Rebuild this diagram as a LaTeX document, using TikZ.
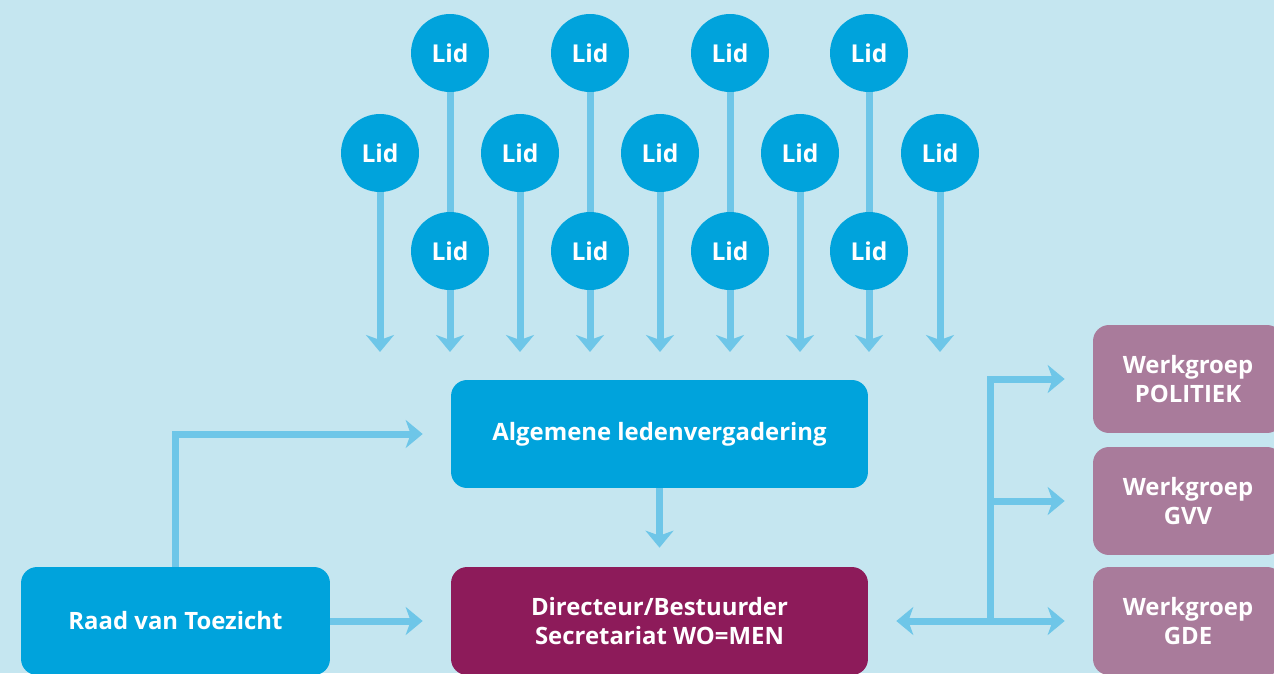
\documentclass[tikz,border=0pt]{standalone}
\usepackage{fontspec}
\setmainfont{Open Sans}
\usetikzlibrary{arrows.meta, positioning}
\definecolor{bgblue}{HTML}{C5E6F0}
\definecolor{lidblue}{HTML}{00A3DC}
\definecolor{linkblue}{HTML}{6EC6E8}
\definecolor{dirpurple}{HTML}{8D1B5A}
\definecolor{wgmauve}{HTML}{A97B9B}

\begin{document}
\begin{tikzpicture}[x=0.02cm, y=-0.02cm,
    lid/.style={circle, fill=lidblue, minimum size=1.56cm, inner sep=0pt,
                text=white, font=\bfseries\fontsize{14}{16}\selectfont},
    box/.style={rounded corners=0.32cm, minimum height=2.16cm, inner sep=0pt,
                text=white, align=center, font=\bfseries\fontsize{13.6}{17}\selectfont},
    wg/.style={box, fill=wgmauve, minimum width=3.8cm},
    link/.style={draw=linkblue, line width=0.14cm},
    arr/.style={link, -{Stealth[length=0.34cm, width=0.56cm, inset=0.1cm]}}
]
    \useasboundingbox (0,0) rectangle (1274,673);
    \clip (0,0) rectangle (1274,673);
    \fill[bgblue] (0,0) rectangle (1274,673);

    % leden
    \foreach \i/\x in {1/450, 2/590, 3/730, 4/869} {
        \node[lid] (top\i) at (\x,53) {Lid};
        \node[lid] (bot\i) at (\x,251) {Lid};
    }
    \foreach \i/\x in {1/380, 2/520, 3/660, 4/800, 5/940}
        \node[lid] (mid\i) at (\x,153) {Lid};

    \coordinate (tipline) at (0,352);
    \foreach \i in {1,...,4} {
        \draw[link] (top\i) -- (bot\i);
        \draw[arr] (bot\i) -- (bot\i |- tipline);
    }
    \foreach \i in {1,...,5}
        \draw[arr] (mid\i) -- (mid\i |- tipline);

    % organen
    \node[box, fill=lidblue, minimum width=8.34cm] (alv) at (659.5,434)
        {Algemene ledenvergadering};
    \node[box, fill=dirpurple, minimum width=8.34cm] (dir) at (659.5,621)
        {Directeur/Bestuurder\\Secretariat WO=MEN};
    \node[box, fill=lidblue, minimum width=6.18cm] (rvt) at (175.5,621)
        {Raad van Toezicht};

    % werkgroepen
    \node[wg] (wg1) at (1188,379) {Werkgroep\\POLITIEK};
    \node[wg] (wg2) at (1188,501) {Werkgroep\\GVV};
    \node[wg] (wg3) at (1188,621) {Werkgroep\\GDE};

    % verbindingen
    \draw[arr, shorten >=0.38cm] (alv) -- (dir);
    \draw[arr, shorten >=0.56cm] (rvt.north) |- (alv.west);
    \draw[arr, shorten >=0.56cm] (rvt) -- (dir);

    \coordinate (hub) at (990,621);
    \draw[arr, shorten >=0.56cm] (hub) |- (wg1.west);
    \draw[arr, shorten >=0.56cm] (hub |- wg2.west) -- (wg2.west);
    \draw[arr, shorten >=0.56cm] (hub) -- (wg3.west);
    \draw[arr, shorten >=0.56cm] (hub) -- (dir.east);
\end{tikzpicture}
\end{document}
